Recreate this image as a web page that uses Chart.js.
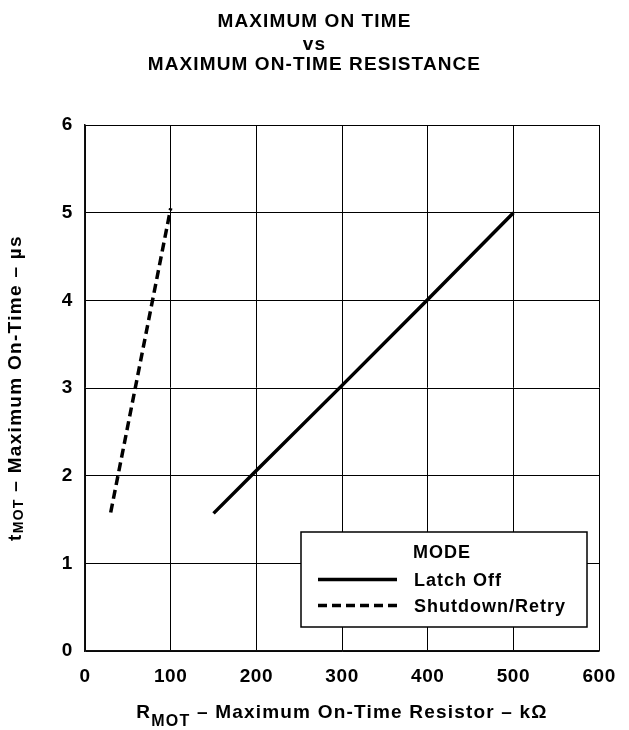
<!DOCTYPE html>
<html>
<head>
<meta charset="utf-8">
<script src="https://cdn.jsdelivr.net/npm/chart.js@4/dist/chart.umd.min.js"></script>
<style>
  body { margin: 0; background: #fff; }
  canvas { display: block; }
</style>
</head>
<body>
<canvas id="chart" width="629" height="730"></canvas>
<script>
// Values
const latchOffR = [150, 200, 300, 400, 500];
const latchOffT = [1.57, 2.06, 3.03, 4.01, 5.0];
const retryR = [30, 100];
const retryT = [1.58, 5.05];
const xTicks = [0, 100, 200, 300, 400, 500, 600];
const yTicks = [0, 1, 2, 3, 4, 5, 6];

const titleLines = ['MAXIMUM ON TIME', 'vs', 'MAXIMUM ON-TIME RESISTANCE'];
const legendTitle = 'MODE';
const seriesNames = ['Latch Off', 'Shutdown/Retry'];

const FONT = '"Liberation Sans", Arial, sans-serif';

function toPoints(xs, ys) {
    return xs.map((x, i) => ({ x: x, y: ys[i] }));
}

// text with an optional subscript part: [[text, size, dy], ...]
function drawRich(ctx, parts, x, y, align, spacing) {
    ctx.letterSpacing = spacing + 'px';
    let total = 0;
    parts.forEach(p => {
        ctx.font = 'bold ' + p[1] + 'px ' + FONT;
        total += ctx.measureText(p[0]).width;
    });
    let cx = align === 'center' ? x - total / 2 : x;
    ctx.textAlign = 'left';
    ctx.textBaseline = 'alphabetic';
    parts.forEach(p => {
        ctx.font = 'bold ' + p[1] + 'px ' + FONT;
        ctx.fillText(p[0], cx, y + p[2]);
        cx += ctx.measureText(p[0]).width;
    });
}

const textPlugin = {
    id: 'textPlugin',
    beforeDraw(chart) {
        chart.ctx.letterSpacing = '0.6px';
    },
    afterDraw(chart) {
        const ctx = chart.ctx;
        const area = chart.chartArea;
        ctx.save();
        ctx.fillStyle = '#000';

        // title
        const baselines = [27, 50, 70];
        titleLines.forEach((t, i) => {
            drawRich(ctx, [[t, 19, 0]], chart.width / 2, baselines[i], 'center', 1.1);
        });

        // x axis title
        const cxPlot = (area.left + area.right) / 2;
        drawRich(ctx, [['R', 19, 0], ['MOT', 16, 8], [' \u2013 Maximum On-Time Resistor \u2013 k\u03A9', 19, 0]],
            cxPlot, 718, 'center', 1.2);

        // y axis title
        ctx.save();
        ctx.translate(21, (area.top + area.bottom) / 2);
        ctx.rotate(-Math.PI / 2);
        drawRich(ctx, [['t', 19, 0], ['MOT', 14, 2], [' \u2013 Maximum On-Time \u2013 \u00B5s', 19, 0]],
            0, 0, 'center', 1.3);
        ctx.restore();

        // legend box
        const bx = 301, by = 532, bw = 286, bh = 95;
        ctx.fillStyle = '#fff';
        ctx.fillRect(bx, by, bw, bh);
        ctx.strokeStyle = '#000';
        ctx.lineWidth = 1.5;
        ctx.strokeRect(bx, by, bw, bh);

        ctx.fillStyle = '#000';
        drawRich(ctx, [[legendTitle, 18, 0]], 413, 558, 'left', 1);
        const rows = [585.5, 611.5];
        chart.data.datasets.forEach((ds, i) => {
            const ly = rows[i] - 6;
            ctx.beginPath();
            ctx.setLineDash(ds.borderDash || []);
            ctx.lineWidth = 3.5;
            ctx.strokeStyle = ds.borderColor;
            ctx.moveTo(318, ly);
            ctx.lineTo(397, ly);
            ctx.stroke();
            ctx.setLineDash([]);
            drawRich(ctx, [[seriesNames[i], 18, 0]], 414, rows[i], 'left', 1);
        });
        ctx.restore();
        ctx.letterSpacing = '0px';
    }
};

new Chart(document.getElementById('chart'), {
    type: 'scatter',
    data: {
        datasets: [{
            label: seriesNames[0],
            data: toPoints(latchOffR, latchOffT),
            showLine: true,
            borderColor: '#000',
            borderWidth: 3.5,
            pointRadius: 0
        }, {
            label: seriesNames[1],
            data: toPoints(retryR, retryT),
            showLine: true,
            borderColor: '#000',
            borderWidth: 3.5,
            borderDash: [9, 5],
            pointRadius: 0
        }]
    },
    options: {
        responsive: false,
        animation: false,
        devicePixelRatio: 1,
        layout: { padding: { top: 125, right: 17, left: 0, bottom: 0 } },
        plugins: {
            legend: { display: false },
            title: { display: false },
            tooltip: { enabled: false }
        },
        scales: {
            x: {
                type: 'linear',
                min: xTicks[0],
                max: xTicks[xTicks.length - 1],
                afterBuildTicks: scale => { scale.ticks = xTicks.map(v => ({ value: v })); },
                afterFit: scale => { scale.height = 79; },
                grid: { color: '#000', lineWidth: 1, drawTicks: false },
                border: { color: '#111', width: 1.5 },
                ticks: {
                    color: '#000',
                    padding: 14,
                    maxRotation: 0,
                    font: { family: FONT, size: 19, weight: 'bold' }
                }
            },
            y: {
                type: 'linear',
                min: yTicks[0],
                max: yTicks[yTicks.length - 1],
                afterBuildTicks: scale => { scale.ticks = yTicks.map(v => ({ value: v })); },
                afterFit: scale => { scale.width = 85; },
                grid: { color: '#000', lineWidth: 1, drawTicks: false },
                border: { color: '#111', width: 1.5 },
                ticks: {
                    color: '#000',
                    padding: 12,
                    font: { family: FONT, size: 19, weight: 'bold' }
                }
            }
        }
    },
    plugins: [textPlugin]
});
</script>
</body>
</html>
